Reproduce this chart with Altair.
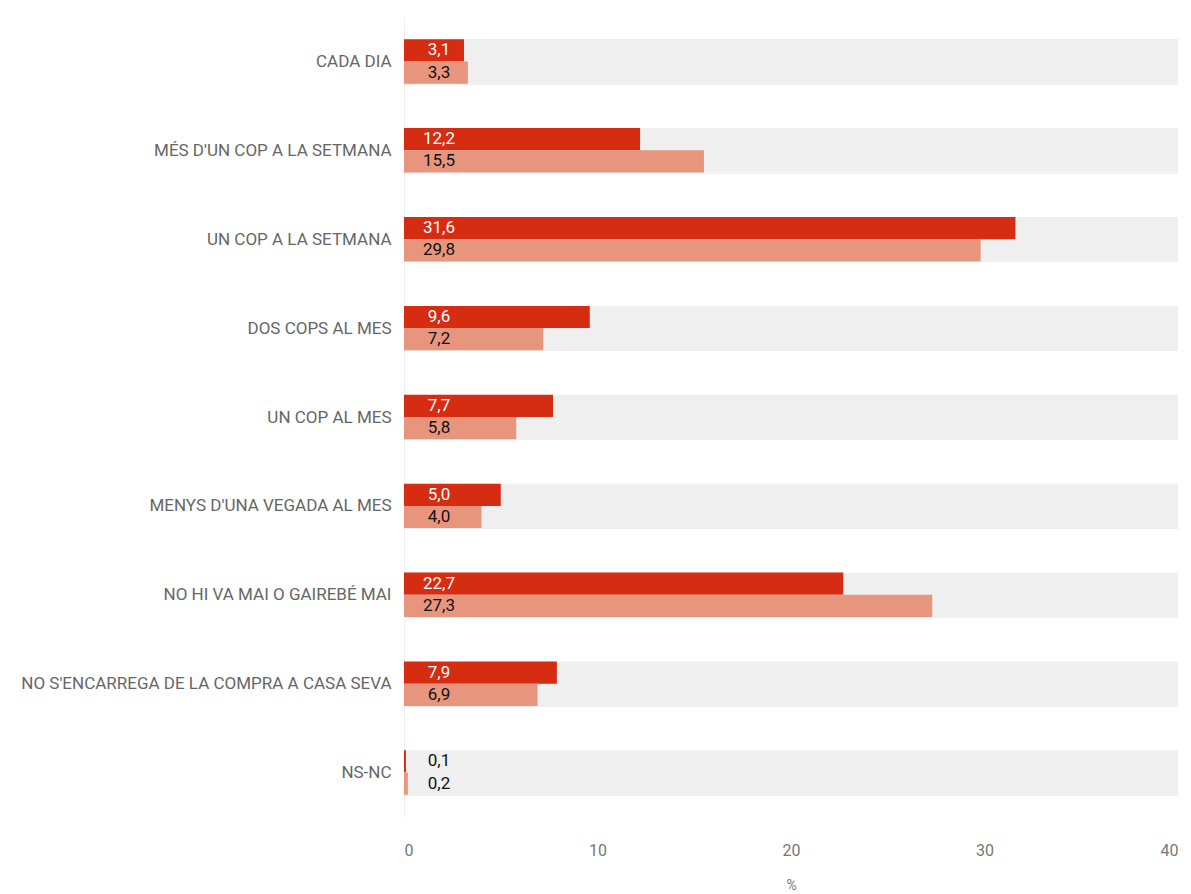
import altair as alt
import pandas as pd

categories = [
    "CADA DIA",
    "MÉS D'UN COP A LA SETMANA",
    "UN COP A LA SETMANA",
    "DOS COPS AL MES",
    "UN COP AL MES",
    "MENYS D'UNA VEGADA AL MES",
    "NO HI VA MAI O GAIREBÉ MAI",
    "NO S'ENCARREGA DE LA COMPRA A CASA SEVA",
    "NS-NC",
]
series_names = ["Sèrie 1", "Sèrie 2"]
values_1 = [3.1, 12.2, 31.6, 9.6, 7.7, 5.0, 22.7, 7.9, 0.1]
values_2 = [3.3, 15.5, 29.8, 7.2, 5.8, 4.0, 27.3, 6.9, 0.2]
x_max = 40
x_ticks = [0, 10, 20, 30, 40]

rows = []
for c, a, b in zip(categories, values_1, values_2):
    rows.append({"cat": c, "serie": series_names[0], "v": a})
    rows.append({"cat": c, "serie": series_names[1], "v": b})
df = pd.DataFrame(rows)
bg = pd.DataFrame({"cat": categories, "v": [x_max] * len(categories)})

FONT = "Roboto"

y_enc = alt.Y(
    "cat:N",
    sort=categories,
    title=None,
    scale=alt.Scale(paddingInner=0.5, paddingOuter=0.25),
    axis=alt.Axis(
        tickBand="extent",
        grid=True,
        gridColor="#efefef",
        gridWidth=1,
        ticks=False,
        domain=True,
        domainColor="#efefef",
        labelFont=FONT,
        labelFontSize=17,
        labelColor="#666666",
        labelPadding=13,
        labelLimit=500,
    ),
)
x_scale = alt.Scale(domain=[0, x_max], nice=False)
x_axis = alt.Axis(
    values=x_ticks,
    grid=False,
    ticks=False,
    domain=False,
    labelFont=FONT,
    labelFontSize=16,
    labelColor="#777777",
    labelPadding=25,
    title="%",
    titleFont=FONT,
    titleFontSize=14,
    titleFontWeight="normal",
    titleColor="#777777",
    titlePadding=20,
)

background = alt.Chart(bg).mark_bar(color="#efefef").encode(
    y=y_enc,
    x=alt.X("v:Q", scale=x_scale, axis=x_axis),
)

bars = alt.Chart(df).mark_bar().encode(
    y=alt.Y("cat:N", sort=categories),
    yOffset=alt.YOffset("serie:N", sort=series_names, scale=alt.Scale(paddingInner=0, paddingOuter=0)),
    x=alt.X("v:Q", scale=x_scale),
    color=alt.Color(
        "serie:N",
        sort=series_names,
        scale=alt.Scale(domain=series_names, range=["#d52c12", "#e8957d"]),
        legend=None,
    ),
)

labels = alt.Chart(df).transform_calculate(
    lab="replace(format(datum.v, '.1f'), '.', ',')"
).mark_text(
    align="center", baseline="middle", dx=35, font=FONT, fontSize=17
).encode(
    y=alt.Y("cat:N", sort=categories),
    yOffset=alt.YOffset("serie:N", sort=series_names),
    x=alt.datum(0),
    text="lab:N",
    color=alt.condition(
        (alt.datum.serie == series_names[0]) & (alt.datum.v > 2),
        alt.value("#ffffff"),
        alt.value("#111111"),
    ),
)

chart = (
    alt.layer(background, bars, labels)
    .properties(width=774, height=800, padding={"top": 0, "left": 12, "right": 5, "bottom": 5})
    .configure_view(stroke=None)
)

chart.save("out.html", embed_options={"renderer": "svg", "actions": False})
